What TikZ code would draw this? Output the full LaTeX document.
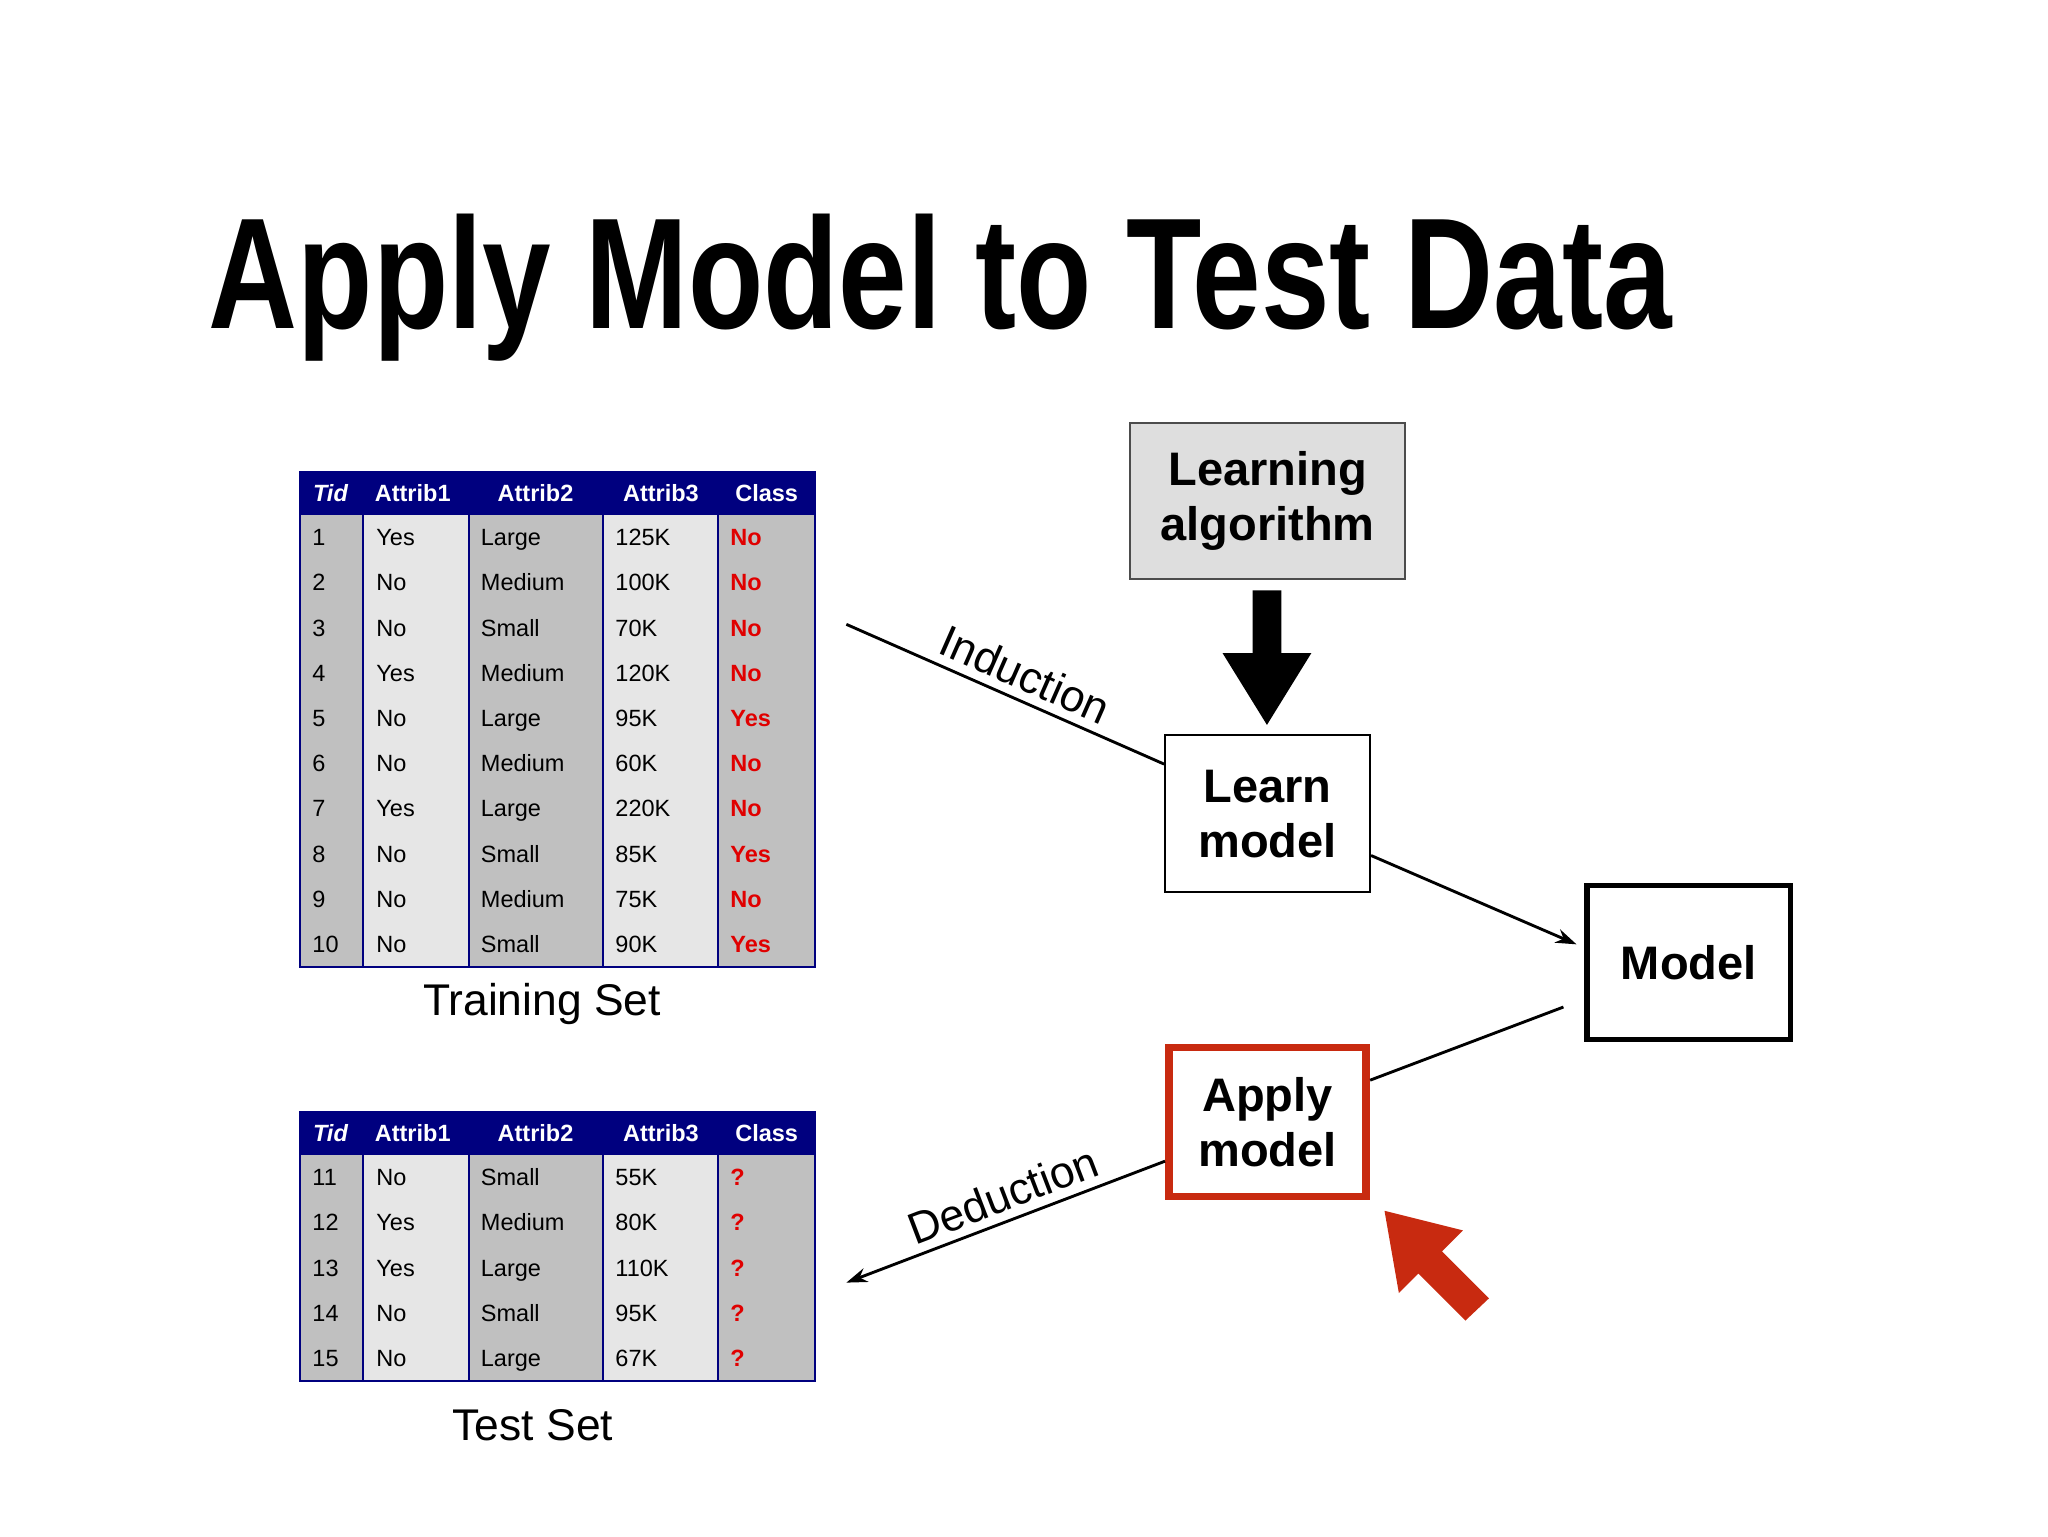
\documentclass[tikz,border=0pt]{standalone}
\usepackage{fontspec}
\setmainfont{Liberation Sans}
\usetikzlibrary{arrows.meta}
\definecolor{navy}{HTML}{00007F}
\definecolor{lg}{HTML}{E6E6E6}
\definecolor{dg}{HTML}{C0C0C0}
\definecolor{redc}{HTML}{E00000}
\definecolor{boxred}{HTML}{C82A10}
\tikzset{
 cell/.style={anchor=base west,inner sep=0,font=\fontsize{18}{20}\selectfont},
 hcell/.style={anchor=base,inner sep=0,text=white,font=\fontsize{18}{20}\selectfont\bfseries},
 cls/.style={cell,text=redc,font=\fontsize{18}{20}\selectfont\bfseries},
 bigbox/.style={draw,line width=1.5pt,align=center,font=\fontsize{36}{42}\selectfont\bfseries,inner sep=0},
 conn/.style={line width=2.2pt},
 lab/.style={font=\fontsize{34}{36}\selectfont}
}
\newcommand{\mytable}[4]{% #1 top y, #2 nrows, #3 name, #4 rows list
 \fill[navy] (230,#1) rectangle (624,#1+33);
 \pgfmathsetmacro{\bot}{#1+33+34.6*#2}
 \fill[dg] (230,#1+33) rectangle (278,\bot);
 \fill[lg] (278,#1+33) rectangle (359,\bot);
 \fill[dg] (359,#1+33) rectangle (462,\bot);
 \fill[lg] (462,#1+33) rectangle (550,\bot);
 \fill[dg] (550,#1+33) rectangle (624,\bot);
 \foreach \xx in {278,359,462,550} \draw[navy,line width=1.5pt] (\xx,#1+33) -- (\xx,\bot);
 \draw[navy,line width=1.5pt] (230,#1) rectangle (624,\bot);
 \node[hcell,font=\fontsize{18}{20}\selectfont\bfseries\itshape] (#3h1) at (253,#1+23) {Tid};
 \node[hcell] (#3h2) at (316,#1+23) {Attrib1};
 \node[hcell] (#3h3) at (410,#1+23) {Attrib2};
 \node[hcell] (#3h4) at (506,#1+23) {Attrib3};
 \node[hcell] (#3h5) at (587,#1+23) {Class};
 \foreach \a/\b/\c/\d/\e [count=\i] in {#4} {
   \pgfmathsetmacro{\yy}{#1+33+34.6*(\i-0.5)+6.5}
   \node[cell] (#3r\i a) at (239,\yy) {\a};
   \node[cell] (#3r\i b) at (288,\yy) {\b};
   \node[cell] (#3r\i c) at (368,\yy) {\c};
   \node[cell] (#3r\i d) at (471,\yy) {\d};
   \node[cls] (#3r\i e) at (559,\yy) {\e};
 }
}
\begin{document}
\begin{tikzpicture}[x=1pt,y=-1pt]
\useasboundingbox (0,0) rectangle (1568,1176);
\node[inner sep=0] (title) at (720,220) {\resizebox{1120pt}{!}{\fontsize{110}{110}\selectfont\bfseries\addfontfeature{FakeStretch=0.78} Apply Model to Test Data}};
\mytable{361}{10}{tr}{1/Yes/Large/125K/No,2/No/Medium/100K/No,3/No/Small/70K/No,4/Yes/Medium/120K/No,5/No/Large/95K/Yes,6/No/Medium/60K/No,7/Yes/Large/220K/No,8/No/Small/85K/Yes,9/No/Medium/75K/No,10/No/Small/90K/Yes}
\mytable{851}{5}{te}{11/No/Small/55K/?,12/Yes/Medium/80K/?,13/Yes/Large/110K/?,14/No/Small/95K/?,15/No/Large/67K/?}
\node[lab] (trl) at (415,769) {Training Set};
\node[lab] (tel) at (408,1091) {Test Set};
\node[bigbox,draw=black!70,fill=black!13,minimum width=211pt,minimum height=119pt] (la) at (970.5,383.5) {Learning\\algorithm};
\node[bigbox,minimum width=157pt,minimum height=120pt] (lm) at (970.5,623) {Learn\\model};
\node[bigbox,line width=4pt,minimum width=156pt,minimum height=118pt] (m) at (1293,737) {Model};
\node[bigbox,draw=boxred,line width=6pt,minimum width=151pt,minimum height=114pt] (am) at (970.5,859) {Apply\\model};
\fill (959,452) -- (981,452) -- (981,500) -- (1004,500) -- (970,555) -- (936,500) -- (959,500) -- cycle;
\coordinate (ind) at (648,478);
\coordinate (ded) at (648,982);
\draw[conn] (ind) -- (lm.west |- 0,585) node[pos=0.53,sloped,above=3pt,font=\fontsize{34}{36}\selectfont] (indl) {Induction};
\draw[conn,-{Stealth[length=16pt,width=11pt]}] (lm.east |- 0,655) -- (1207,723);
\draw[conn] (1197,771) -- (am.east |- 0,827);
\draw[conn,-{Stealth[length=16pt,width=11pt]}] (am.west |- 0,889) -- (ded) node[pos=0.48,sloped,above=3pt,font=\fontsize{34}{36}\selectfont] (dedl) {Deduction};
\fill[boxred] (1060,927) -- (1120,942) -- (1104,958) -- (1140,994) -- (1122,1011) -- (1086,975) -- (1071,990) -- cycle;
\end{tikzpicture}
\end{document}
